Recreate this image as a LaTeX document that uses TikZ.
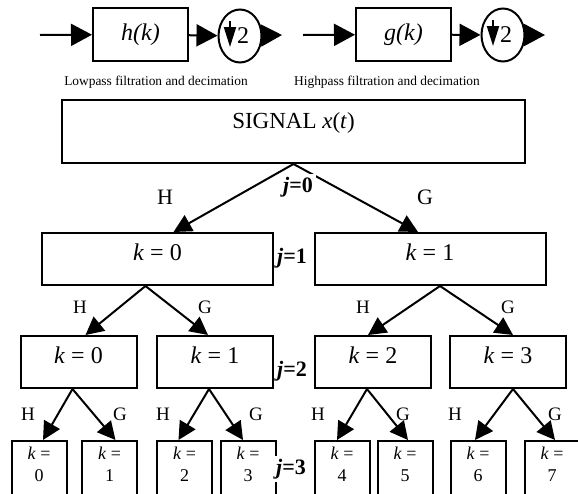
\documentclass[tikz,border=0pt]{standalone}
\usepackage{fontspec}
\setmainfont{Liberation Serif}
\usetikzlibrary{arrows.meta,positioning,shapes.geometric}

\tikzset{
  filt/.style={draw, line width=1pt, minimum width=47.5pt, minimum height=26.5pt, inner sep=0pt, font=\fontsize{12}{14}\selectfont\itshape},
  dec/.style={draw, ellipse, line width=1pt, minimum width=21.5pt, minimum height=26.5pt, inner sep=0pt, font=\fontsize{12}{14}\selectfont},
  big/.style={-{Triangle[length=10.5pt,width=11pt]}, line width=1pt},
  down/.style={-{Triangle[length=10pt,width=6pt]}, line width=1pt},
  note/.style={font=\fontsize{6.7}{8}\selectfont},
  sigbox/.style={draw, line width=1pt, minimum width=231.5pt, minimum height=31.5pt, inner sep=0pt, text depth=10.5pt, font=\fontsize{11.5}{14}\selectfont},
  box1/.style={draw, line width=1pt, minimum width=115.5pt, minimum height=26pt, inner sep=0pt, text depth=7pt, font=\fontsize{12}{14}\selectfont},
  box2/.style={draw, line width=1pt, minimum width=58pt, minimum height=26pt, inner sep=0pt, text depth=7pt, font=\fontsize{12}{14}\selectfont},
  box3/.style={draw, line width=1pt, minimum width=27.5pt, minimum height=30pt, inner sep=0pt, text depth=7pt, align=center, font=\fontsize{9}{11}\selectfont},
  arr/.style={-{Triangle[length=9pt,width=9pt]}, line width=1pt},
  hg/.style={font=\fontsize{11}{13}\selectfont},
  hgs/.style={font=\fontsize{9.5}{11}\selectfont},
  jlab/.style={fill=white, inner sep=1.5pt, font=\fontsize{11}{13}\selectfont\bfseries}
}

\begin{document}
\begin{tikzpicture}[x=0.5pt, y=-0.5pt]
    \useasboundingbox (0,0) rectangle (578,493);
    \clip (0,0) rectangle (578,493);

    % filter and decimation blocks
    \coordinate (lin) at (40,35);
    \node[filt] (hk) at (140.5,34.5) {h(k)};
    \node[dec] (lpd) at (240,36) {\hspace{3pt}2};
    \coordinate (lout) at (282,35);
    \draw[big] (lin) -- (hk);
    \draw[big] (hk) -- (lpd);
    \draw[big] (lpd) -- (lout);
    \draw[down] ([shift={(-10,-15)}]lpd.center) -- ([shift={(-10,11)}]lpd.center);
    \node[note] (lpn) at (156,82) {Lowpass filtration and decimation};

    \coordinate (rin) at (303,35);
    \node[filt] (gk) at (403.5,34.5) {g(k)};
    \node[dec] (hpd) at (503,35) {\hspace{3pt}2};
    \coordinate (rout) at (545,35);
    \draw[big] (rin) -- (gk);
    \draw[big] (gk) -- (hpd);
    \draw[big] (hpd) -- (rout);
    \draw[down] ([shift={(-10,-15)}]hpd.center) -- ([shift={(-10,11)}]hpd.center);
    \node[note] (hpn) at (387,82) {Highpass filtration and decimation};

    % tree
    \node[sigbox] (sig) at (293.5,131.5) {SIGNAL \textit{x}(\textit{t})};

    \node[box1] (k10) at (157.5,259) {\textit{k} = 0};
    \node[box1] (k11) at (430,259) {\textit{k} = 1};

    \node[box2] (k20) at (78.5,362) {\textit{k} = 0};
    \node[box2] (k21) at (215,362) {\textit{k} = 1};
    \node[box2] (k22) at (373,362) {\textit{k} = 2};
    \node[box2] (k23) at (508,362) {\textit{k} = 3};

    \node[box3] (k30) at (39,471) {\textit{k} =\\0};
    \node[box3] (k31) at (109.5,471) {\textit{k} =\\1};
    \node[box3] (k32) at (184.5,471) {\textit{k} =\\2};
    \node[box3] (k33) at (248,471) {\textit{k} =\\3};
    \node[box3] (k34) at (342,471) {\textit{k} =\\4};
    \node[box3] (k35) at (405,471) {\textit{k} =\\5};
    \node[box3] (k36) at (478,471) {\textit{k} =\\6};
    \node[box3] (k37) at (552,471) {\textit{k} =\\7};

    \draw[arr] (sig.south) -- ([xshift=8pt]k10.north);
    \draw[arr] (sig.south) -- ([xshift=-6pt]k11.north);

    \draw[arr] ([xshift=-6pt]k10.south) -- ([xshift=3.5pt]k20.north);
    \draw[arr] ([xshift=-6pt]k10.south) -- ([xshift=-3.5pt]k21.north);
    \draw[arr] ([xshift=5pt]k11.south) -- ([xshift=-2.5pt]k22.north);
    \draw[arr] ([xshift=5pt]k11.south) -- ([xshift=2.5pt]k23.north);

    \draw[arr] ([xshift=-3pt]k20.south) -- ([xshift=2pt]k30.north);
    \draw[arr] ([xshift=-3pt]k20.south) -- ([xshift=3pt]k31.north);
    \draw[arr] ([xshift=-3pt]k21.south) -- ([xshift=-3pt]k32.north);
    \draw[arr] ([xshift=-3pt]k21.south) -- ([xshift=-2.5pt]k33.north);
    \draw[arr] ([xshift=-3pt]k22.south) -- ([xshift=-2.5pt]k34.north);
    \draw[arr] ([xshift=-3pt]k22.south) -- ([xshift=1.5pt]k35.north);
    \draw[arr] ([xshift=2.5pt]k23.south) -- ([xshift=-1.5pt]k36.north);
    \draw[arr] ([xshift=2.5pt]k23.south) -- ([xshift=1.5pt]k37.north);

    \node[hg] (h10) at (165,197) {H};
    \node[hg] (g10) at (425,197) {G};

    \node[hgs] (h20) at (80,307) {H};
    \node[hgs] (g20) at (205,307) {G};
    \node[hgs] (h21) at (363,307) {H};
    \node[hgs] (g21) at (508,307) {G};

    \node[hgs] (h30) at (28,414) {H};
    \node[hgs] (g30) at (120,414) {G};
    \node[hgs] (h31) at (163,414) {H};
    \node[hgs] (g31) at (256,414) {G};
    \node[hgs] (h32) at (318,414) {H};
    \node[hgs] (g32) at (403,414) {G};
    \node[hgs] (h33) at (455,414) {H};
    \node[hgs] (g33) at (555,414) {G};

    \node[jlab] (j0) at (298,187) {\textit{j}=0};
    \node[jlab] (j1) at (292,258) {\textit{j}=1};
    \node[jlab] (j2) at (292,371) {\textit{j}=2};
    \node[jlab] (j3) at (291,469) {\textit{j}=3};
\end{tikzpicture}
\end{document}
